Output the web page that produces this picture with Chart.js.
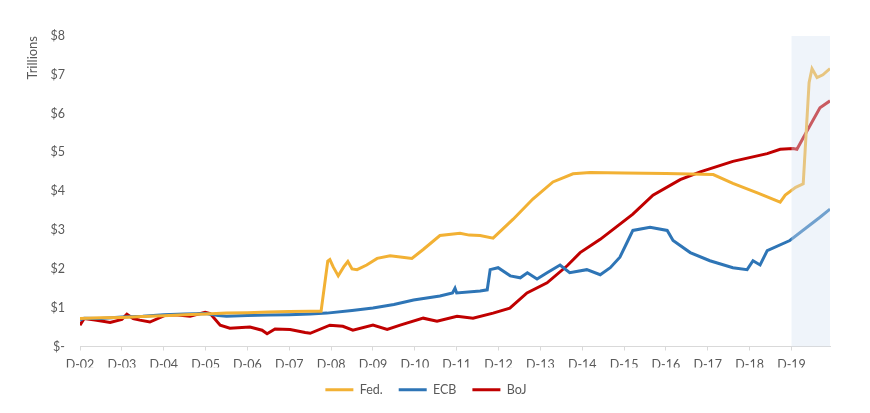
<!DOCTYPE html>
<html>
<head>
<meta charset="utf-8">
<script src="https://cdn.jsdelivr.net/npm/chart.js@4.4.0/dist/chart.umd.min.js"></script>
<style>
  html, body { margin: 0; background: #fff; }
  #wrap { width: 870px; height: 413px; }
</style>
</head>
<body>
<div id="wrap"><canvas id="chart"></canvas></div>
<script>
// time axis: years since Dec-2002 (0 = D-02, 17 = D-19)
const yearLabels = ['D-02','D-03','D-04','D-05','D-06','D-07','D-08','D-09','D-10',
                    'D-11','D-12','D-13','D-14','D-15','D-16','D-17','D-18','D-19'];
const shadeFrom = 17;
const lastT = 17.92;

// Fed. balance sheet, $ trillions
const fedT = [0, 0.5, 1, 1.5, 2, 2.5, 3, 3.5, 4, 4.5, 5, 5.5, 5.76, 5.92, 5.97, 6.05, 6.17, 6.3, 6.4, 6.5, 6.62, 6.85,
              7.1, 7.41, 7.7, 7.93, 8.2, 8.6, 9.08, 9.3, 9.56, 9.87, 10.35, 10.82, 11.3, 11.78, 12.19,
              13, 14, 15.13, 15.6, 16.2, 16.73, 16.85, 17.1, 17.28, 17.42, 17.49, 17.61, 17.75, 17.92];
const fedV = [0.72, 0.74, 0.75, 0.77, 0.79, 0.82, 0.84, 0.86, 0.87, 0.89, 0.9, 0.91, 0.91, 2.2, 2.24, 2.05, 1.82, 2.05, 2.19, 2.0, 1.98, 2.1,
              2.27, 2.34, 2.3, 2.27, 2.5, 2.86, 2.92, 2.87, 2.86, 2.79, 3.28, 3.8, 4.24, 4.45, 4.48,
              4.47, 4.46, 4.43, 4.2, 3.95, 3.72, 3.9, 4.1, 4.19, 6.8, 7.16, 6.93, 7.0, 7.16];

// ECB
const ecbT = [0, 0.1, 0.5, 1, 1.5, 2, 2.5, 3, 3.3, 3.5, 4, 4.5, 5, 5.5, 5.9, 6.5, 7, 7.5, 7.97, 8.6,
              8.9, 8.96, 9.0, 9.56, 9.73, 9.8, 9.99, 10.28, 10.52, 10.69, 10.92, 11.16, 11.47, 11.7,
              12.11, 12.43, 12.67, 12.9, 13.07, 13.21, 13.62, 14.03, 14.17, 14.58, 15.05, 15.6, 15.94,
              16.08, 16.25, 16.42, 16.96, 17.68, 17.92];
const ecbV = [0.68, 0.73, 0.72, 0.76, 0.78, 0.82, 0.84, 0.85, 0.8, 0.78, 0.8, 0.81, 0.82, 0.84, 0.86, 0.93, 0.99, 1.08, 1.2, 1.3,
              1.38, 1.5, 1.38, 1.43, 1.46, 1.98, 2.03, 1.82, 1.77, 1.9, 1.74, 1.9, 2.1, 1.9,
              1.98, 1.85, 2.03, 2.3, 2.68, 2.99, 3.07, 2.99, 2.73, 2.42, 2.21, 2.03, 1.98,
              2.21, 2.1, 2.47, 2.73, 3.33, 3.54];

// BoJ
const bojT = [0, 0.1, 0.36, 0.72, 1.0, 1.12, 1.27, 1.43, 1.67, 2.03, 2.27, 2.63, 2.99, 3.11, 3.35, 3.58,
              4.06, 4.35, 4.47, 4.66, 5.02, 5.38, 5.5, 5.97, 6.28, 6.52, 7.0, 7.34, 7.65, 8.2, 8.53,
              9.01, 9.39, 9.87, 10.27, 10.68, 11.16, 11.64, 11.95, 12.43, 13.21, 13.69, 14.34, 14.82,
              15.6, 16.42, 16.73, 17.04, 17.13, 17.37, 17.68, 17.92];
const bojV = [0.55, 0.72, 0.68, 0.62, 0.7, 0.83, 0.72, 0.68, 0.63, 0.8, 0.82, 0.78, 0.88, 0.85, 0.55, 0.47,
              0.5, 0.42, 0.33, 0.45, 0.44, 0.36, 0.34, 0.55, 0.52, 0.42, 0.55, 0.44, 0.55, 0.73, 0.65,
              0.78, 0.73, 0.86, 0.99, 1.38, 1.64, 2.08, 2.42, 2.76, 3.41, 3.9, 4.3, 4.5,
              4.77, 4.97, 5.08, 5.1, 5.08, 5.55, 6.15, 6.33];

function toPoints(ts, vs) {
    return ts.map((t, i) => ({ x: t, y: vs[i] }));
}

Chart.defaults.font.family = 'Lato, "Open Sans", sans-serif';
Chart.defaults.color = '#595959';

// light blue band over the latest period, drawn on top of the lines
const shadePlugin = {
    id: 'shade',
    afterDatasetsDraw(chart) {
        const { ctx, chartArea, scales } = chart;
        const x0 = scales.x.getPixelForValue(shadeFrom);
        ctx.save();
        ctx.fillStyle = 'rgba(214, 228, 242, 0.4)';
        ctx.fillRect(x0, chartArea.top, chartArea.right - x0, chartArea.bottom - chartArea.top);
        ctx.restore();
    }
};

const ctx = document.getElementById('chart').getContext('2d');
const chart = new Chart(ctx, {
    type: 'line',
    data: {
        datasets: [{
            label: 'Fed.',
            data: toPoints(fedT, fedV),
            borderColor: '#F2B134',
            backgroundColor: '#F2B134',
            borderWidth: 3
        }, {
            label: 'ECB',
            data: toPoints(ecbT, ecbV),
            borderColor: '#2E75B6',
            backgroundColor: '#2E75B6',
            borderWidth: 3
        }, {
            label: 'BoJ',
            data: toPoints(bojT, bojV),
            borderColor: '#C00000',
            backgroundColor: '#C00000',
            borderWidth: 3
        }]
    },
    options: {
        responsive: true,
        maintainAspectRatio: false,
        animation: false,
        elements: { point: { radius: 0 }, line: { tension: 0 } },
        layout: { padding: { top: 36, left: 22, right: 40, bottom: 7 } },
        scales: {
            x: {
                type: 'linear',
                min: 0,
                max: lastT,
                ticks: {
                    stepSize: 1,
                    includeBounds: false,
                    autoSkip: false,
                    maxRotation: 0,
                    padding: 7,
                    font: { size: 12.5 },
                    callback: (v) => Number.isInteger(v) ? yearLabels[v] : ''
                },
                grid: { drawOnChartArea: false, tickLength: 4, color: '#d9d9d9' },
                border: { color: '#d9d9d9' },
                afterFit: (scale) => { scale.height = 21; }
            },
            y: {
                min: 0,
                max: 8,
                ticks: {
                    stepSize: 1,
                    padding: 15,
                    font: { size: 12.5 },
                    callback: (v) => v === 0 ? '$-' : '$' + v
                },
                grid: { display: false, drawTicks: false },
                border: { display: false },
                title: { display: true, text: 'Trillions', align: 'end', font: { size: 13 }, padding: { top: 3, bottom: 0 } },
                afterFit: (scale) => { scale.width = 58; }
            }
        },
        plugins: {
            legend: {
                position: 'bottom',
                labels: {
                    boxWidth: 28,
                    boxHeight: 3,
                    padding: 16,
                    font: { size: 12.5 },
                    generateLabels: (c) => Chart.defaults.plugins.legend.labels.generateLabels(c)
                        .map(l => Object.assign(l, { lineWidth: 0 }))
                }
            },
            tooltip: { enabled: false }
        }
    },
    plugins: [shadePlugin]
});
</script>
</body>
</html>
